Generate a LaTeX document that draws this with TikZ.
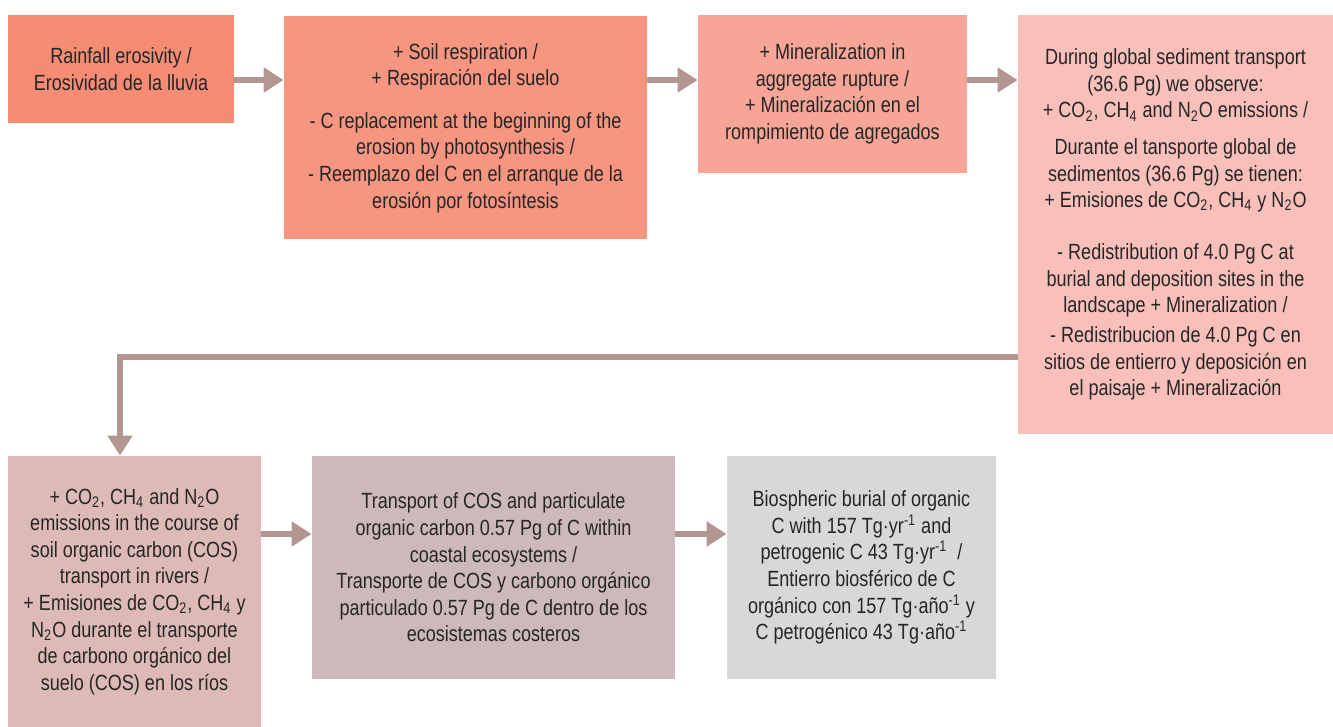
\documentclass[tikz,border=0pt]{standalone}
\usepackage{fontspec}
\setmainfont[FakeStretch=0.82]{Liberation Sans}
\usepackage{tikz}
\usetikzlibrary{arrows.meta, positioning, calc}

\definecolor{boxA}{RGB}{245,140,115}
\definecolor{boxB}{RGB}{246,149,128}
\definecolor{boxC}{RGB}{247,165,151}
\definecolor{boxD}{RGB}{249,192,187}
\definecolor{boxE}{RGB}{221,186,182}
\definecolor{boxF}{RGB}{205,185,185}
\definecolor{boxG}{RGB}{218,216,214}
\definecolor{flowcol}{RGB}{179,150,144}
\definecolor{txt}{RGB}{38,38,38}

\newcommand{\lo}[1]{\textsubscript{#1}}
\newcommand{\hi}[1]{\textsuperscript{#1}}

\begin{document}
\begin{tikzpicture}[x=0.5pt, y=-0.5pt,
        box/.style={rectangle, inner sep=0pt, align=center, text=txt,
            font=\fontsize{11}{13.3}\selectfont},
        flow/.style={draw=flowcol, line width=2.75pt,
            -{Triangle[length=10pt, width=12pt]}}]
            \useasboundingbox (0,0) rectangle (1333,727);

            % top row
            \node[box, fill=boxA, minimum width=113pt, minimum height=54pt] (rain) at (121,69)
                {Rainfall erosivity /\\Erosividad de la lluvia};
            \node[box, fill=boxB, minimum width=181.5pt, minimum height=111.5pt] (resp) at (465.5,128)
                {+ Soil respiration /\\+ Respiración del suelo\\[8pt]
                 - C replacement at the beginning of the\\erosion by photosynthesis /\\
                 - Reemplazo del C en el arranque de la\\erosión por fotosíntesis};
            \node[box, fill=boxC, minimum width=134.5pt, minimum height=79pt] (aggr) at (832.5,94)
                {+ Mineralization in\\aggregate rupture /\\+ Mineralización en el\\rompimiento de agregados};
            \node[box, fill=boxD, minimum width=157.5pt, minimum height=209.5pt] (sed) at (1175.5,224.5)
                {During global sediment transport\\(36.6 Pg) we observe:\\
                 + CO\lo{2}, CH\lo{4} and N\lo{2}O emissions /\\[5pt]
                 Durante el tansporte global de\\sedimentos (36.6 Pg) se tienen:\\
                 + Emisiones de CO\lo{2}, CH\lo{4} y N\lo{2}O\\[12.75pt]
                 - Redistribution of 4.0 Pg C at\\burial and deposition sites in the\\
                 landscape + Mineralization /\\[1.5pt]
                 - Redistribucion de 4.0 Pg C en\\sitios de entierro y deposición en\\
                 el paisaje + Mineralización};

            % bottom row
            \node[box, fill=boxE, minimum width=126.5pt, minimum height=135.5pt] (rivers) at (134.5,591.5)
                {+ CO\lo{2}, CH\lo{4} and N\lo{2}O\\emissions in the course of\\
                 soil organic carbon (COS)\\transport in rivers /\\
                 + Emisiones de CO\lo{2}, CH\lo{4} y\\N\lo{2}O durante el transporte\\
                 de carbono orgánico del\\suelo (COS) en los ríos};
            \node[box, fill=boxF, minimum width=181.5pt, minimum height=111.5pt] (coast) at (493.5,567.5)
                {Transport of COS and particulate\\organic carbon 0.57 Pg of C within\\
                 coastal ecosystems /\\Transporte de COS y carbono orgánico\\
                 particulado 0.57 Pg de C dentro de los\\ecosistemas costeros};
            \node[box, fill=boxG, minimum width=134.5pt, minimum height=111.5pt] (burial) at (861.5,567.5)
                {Biospheric burial of organic\\C with 157 Tg·yr\hi{-1} and\\
                 petrogenic C 43 Tg·yr\hi{-1}~ /\\Entierro biosférico de C\\
                 orgánico con 157 Tg·año\hi{-1} y\\C petrogénico 43 Tg·año\hi{-1}};

            % connectors
            \coordinate (row1) at (0,80);
            \coordinate (row2) at (0,534);
            \coordinate (turn) at (120,357);
            \draw[flow] (rain.east |- row1) -- (resp.west |- row1);
            \draw[flow] (resp.east |- row1) -- (aggr.west |- row1);
            \draw[flow] (aggr.east |- row1) -- (sed.west |- row1);
            \draw[flow] (sed.west |- turn) -| (rivers.north -| turn);
            \draw[flow] (rivers.east |- row2) -- (coast.west |- row2);
            \draw[flow] (coast.east |- row2) -- (burial.west |- row2);
        \end{tikzpicture}
\end{document}
